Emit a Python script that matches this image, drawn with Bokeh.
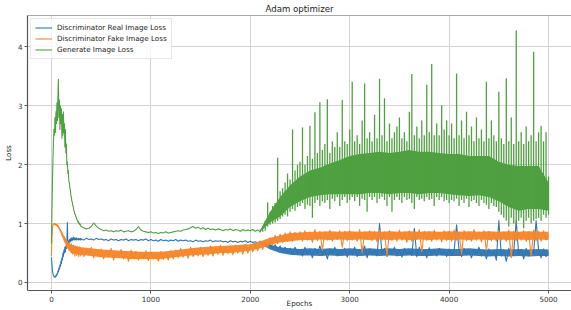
from bokeh.plotting import figure
from bokeh.models import FixedTicker, Range1d, Span, Legend, LegendItem
from bokeh.embed import file_html
from bokeh.resources import INLINE

# ---------------- data ----------------
epochs = list(range(0, 300, 5)) + list(range(300, 5001, 25))

d_real_loss = [
    # 0-295 (step 5)
    0.43, 0.30, 0.20, 0.15, 0.12, 0.10, 0.09, 0.10, 0.09, 0.12,
    0.11, 0.15, 0.14, 0.20, 0.18, 0.25, 0.22, 0.30, 0.27, 0.36,
    0.32, 0.42, 0.38, 0.50, 0.44, 0.55, 0.50, 0.60, 0.52, 0.62,
    0.58, 0.68, 1.02, 0.64, 0.70, 0.66, 0.73, 0.68, 0.74, 0.70,
    0.76, 0.71, 0.75, 0.72, 0.77, 0.73, 0.76, 0.72, 0.75, 0.73,
    0.76, 0.72, 0.74, 0.73, 0.75, 0.72, 0.74, 0.73, 0.75, 0.72,
    # 300-475 (step 25)
    0.74, 0.72, 0.75, 0.73, 0.74, 0.72, 0.75, 0.73,
    # 500-975
    0.74, 0.72, 0.73, 0.71, 0.74, 0.72, 0.73, 0.71, 0.73, 0.72,
    0.74, 0.71, 0.73, 0.72, 0.73, 0.71, 0.73, 0.72, 0.74, 0.71,
    # 1000-1475
    0.73, 0.71, 0.72, 0.70, 0.73, 0.71, 0.72, 0.70, 0.72, 0.71,
    0.73, 0.70, 0.72, 0.71, 0.72, 0.70, 0.71, 0.69, 0.72, 0.70,
    # 1500-1975
    0.71, 0.69, 0.71, 0.70, 0.72, 0.69, 0.71, 0.70, 0.71, 0.69,
    0.70, 0.68, 0.71, 0.69, 0.70, 0.68, 0.70, 0.69, 0.71, 0.68,
    # 2000-2475
    0.70, 0.68, 0.69, 0.67, 0.70, 0.66, 0.68, 0.62, 0.66, 0.58,
    0.64, 0.55, 0.62, 0.52, 0.60, 0.50, 0.58, 0.48, 0.60, 0.50,
    # 2500-2975
    0.56, 0.45, 0.60, 0.48, 0.55, 0.42, 0.58, 0.50, 0.62, 0.46,
    0.55, 0.40, 0.57, 0.49, 0.60, 0.45, 0.54, 0.48, 0.58, 0.43,
    # 3000-3475
    0.55, 0.47, 0.60, 0.44, 0.56, 0.50, 0.62, 0.42, 0.57, 0.48,
    0.55, 0.45, 1.00, 0.47, 0.58, 0.44, 0.56, 0.49, 0.60, 0.45,
    # 3500-3975
    0.55, 0.43, 0.58, 0.48, 0.54, 0.46, 0.92, 0.44, 0.60, 0.47,
    0.56, 0.42, 0.59, 0.48, 0.55, 0.45, 0.58, 0.47, 0.54, 0.44,
    # 4000-4475
    0.57, 0.46, 0.53, 0.98, 0.55, 0.44, 0.58, 0.47, 0.52, 0.42,
    0.56, 0.48, 0.60, 0.45, 0.54, 0.40, 0.57, 0.46, 0.53, 0.38,
    # 4500-5000
    1.05, 0.45, 0.55, 0.36, 0.58, 0.44, 0.52, 1.05, 0.47, 0.56,
    0.40, 0.58, 0.45, 0.53, 0.50, 1.05, 0.55, 0.42, 0.57, 0.44, 0.50,
]

d_fake_loss = [
    # 0-295 (step 5)
    0.45, 0.75, 0.92, 0.98, 1.00, 0.99, 1.00, 0.98, 1.00, 0.97,
    0.99, 0.96, 0.98, 0.94, 0.96, 0.91, 0.93, 0.88, 0.90, 0.84,
    0.87, 0.80, 0.84, 0.76, 0.80, 0.72, 0.78, 0.68, 0.75, 0.64,
    0.72, 0.60, 0.70, 0.58, 0.66, 0.55, 0.68, 0.54, 0.64, 0.52,
    0.66, 0.50, 0.62, 0.48, 0.63, 0.50, 0.60, 0.45, 0.62, 0.50,
    0.58, 0.46, 0.60, 0.49, 0.57, 0.44, 0.60, 0.48, 0.56, 0.45,
    # 300-475 (step 25)
    0.58, 0.44, 0.56, 0.47, 0.60, 0.42, 0.55, 0.46,
    # 500-975
    0.57, 0.40, 0.54, 0.45, 0.58, 0.38, 0.53, 0.44, 0.56, 0.40,
    0.52, 0.36, 0.55, 0.42, 0.53, 0.38, 0.50, 0.41, 0.54, 0.37,
    # 1000-1475
    0.52, 0.40, 0.50, 0.36, 0.53, 0.39, 0.51, 0.38, 0.54, 0.40,
    0.55, 0.42, 0.58, 0.43, 0.56, 0.41, 0.60, 0.44, 0.58, 0.45,
    # 1500-1975
    0.60, 0.44, 0.57, 0.46, 0.62, 0.45, 0.59, 0.48, 0.63, 0.46,
    0.60, 0.49, 0.62, 0.47, 0.64, 0.50, 0.61, 0.48, 0.65, 0.50,
    # 2000-2475
    0.63, 0.52, 0.66, 0.54, 0.68, 0.56, 0.72, 0.60, 0.76, 0.64,
    0.80, 0.66, 0.82, 0.68, 0.84, 0.70, 0.86, 0.70, 0.85, 0.72,
    # 2500-2975
    0.86, 0.70, 0.88, 0.72, 0.85, 0.68, 0.90, 0.71, 0.87, 0.55,
    0.86, 0.72, 0.89, 0.70, 0.85, 0.73, 0.88, 0.60, 0.87, 0.71,
    # 3000-3475
    0.88, 0.72, 0.85, 0.70, 0.90, 0.50, 0.86, 0.73, 0.88, 0.71,
    0.87, 0.69, 0.89, 0.72, 0.86, 0.45, 0.88, 0.71, 0.85, 0.70,
    # 3500-3975
    0.89, 0.72, 0.86, 0.68, 0.88, 0.70, 0.85, 0.73, 0.90, 0.52,
    0.87, 0.71, 0.86, 0.70, 0.89, 0.72, 0.85, 0.69, 0.88, 0.71,
    # 4000-4475
    0.87, 0.70, 0.89, 0.72, 0.86, 0.48, 0.88, 0.71, 0.85, 0.70,
    0.90, 0.72, 0.86, 0.69, 0.88, 0.55, 0.87, 0.71, 0.85, 0.70,
    # 4500-5000
    0.88, 0.72, 0.86, 0.70, 0.89, 0.42, 0.87, 0.71, 0.85, 0.72,
    0.88, 0.70, 0.86, 0.45, 0.89, 0.71, 0.87, 0.70, 0.88, 0.72, 0.80,
]

# generator loss as a line up to epoch 2100 ...
g_epochs = list(range(0, 300, 5)) + list(range(300, 2101, 25))
g_loss = [
    # 0-295 (step 5)
    0.66, 1.20, 1.70, 2.10, 2.40, 2.60, 2.50, 2.80, 2.55, 2.90,
    2.70, 3.05, 2.75, 3.20, 3.45, 2.80, 3.10, 2.60, 3.00, 2.70,
    2.95, 2.45, 2.85, 2.50, 2.90, 2.55, 2.70, 2.30, 2.60, 2.20,
    2.35, 2.00, 2.05, 1.85, 1.90, 1.72, 1.70, 1.60, 1.58, 1.48,
    1.45, 1.38, 1.36, 1.30, 1.29, 1.22, 1.21, 1.16, 1.15, 1.12,
    1.10, 1.07, 1.06, 1.03, 1.04, 1.00, 1.01, 0.98, 0.99, 0.96,
    # 300-475 (step 25)
    0.95, 0.93, 0.91, 0.92, 0.95, 1.01, 0.96, 0.92,
    # 500-975
    0.90, 0.88, 0.89, 0.87, 0.88, 0.86, 0.88, 0.87, 0.89, 0.86,
    0.87, 0.88, 0.86, 0.87, 0.90, 0.95, 0.89, 0.87, 0.86, 0.85,
    # 1000-1475
    0.86, 0.84, 0.85, 0.83, 0.85, 0.84, 0.86, 0.84, 0.85, 0.86,
    0.87, 0.88, 0.87, 0.89, 0.90, 0.91, 0.93, 0.95, 0.92, 0.94,
    # 1500-1975
    0.91, 0.93, 0.90, 0.92, 0.90, 0.91, 0.89, 0.91, 0.90, 0.88,
    0.90, 0.89, 0.91, 0.88, 0.90, 0.89, 0.87, 0.90, 0.88, 0.89,
    # 2000-2100
    0.88, 0.90, 0.87, 0.89, 0.86,
]

# ... and, where it is very noisy, as the low / high reached in each 25-epoch column
g_col_epochs = list(range(2100, 5001, 25))
g_col_low = [
    0.85, 0.86, 0.88, 0.95, 0.98, 1.00, 1.02, 1.05, 1.08, 1.12, 1.15, 1.12, 1.20, 1.25, 1.22, 1.28,
    1.30, 1.35, 1.25, 1.32, 1.30, 1.10, 1.35, 1.40, 1.30, 1.38, 1.35, 1.40, 1.25, 1.42, 1.38, 1.45, 1.30, 1.40, 1.45, 1.35,
    1.40, 1.45, 1.38, 1.45, 1.30, 1.42, 1.40, 1.20, 1.45, 1.40, 1.45, 1.35, 1.42, 1.45, 1.40, 1.30, 1.45, 1.20, 1.40, 1.45,
    1.40, 1.35, 1.45, 1.40, 1.42, 1.35, 1.25, 1.45, 1.40, 1.42, 1.38, 1.45, 1.40, 1.42, 1.30, 1.45, 1.40, 1.45, 1.38, 1.40,
    1.35, 1.40, 1.38, 1.42, 1.30, 1.40, 1.35, 1.42, 1.28, 1.38, 1.40, 1.35, 1.30, 1.40, 1.35, 1.32, 1.25, 1.35, 1.30, 1.28,
    1.20, 1.15, 1.10, 1.05, 0.95, 1.10, 1.00, 0.98, 1.05, 1.10, 0.92, 1.05, 1.10, 1.00, 1.05, 1.08, 1.10, 1.05, 1.15, 1.10, 1.15,
]
g_col_high = [
    0.90, 0.92, 1.05, 1.36, 1.20, 1.30, 1.35, 2.12, 1.55, 1.60, 1.70, 1.85, 1.75, 2.60, 1.90, 2.00,
    2.05, 2.63, 2.00, 2.15, 2.66, 2.10, 2.89, 2.20, 3.06, 2.25, 2.35, 3.11, 2.20, 2.40, 2.30, 2.55, 2.30, 3.10, 2.40, 2.35,
    2.60, 3.41, 2.40, 2.50, 2.35, 2.75, 3.38, 2.45, 2.55, 2.40, 2.85, 2.45, 3.46, 2.50, 3.13, 2.40, 2.70, 2.45, 2.55, 2.65,
    2.80, 2.45, 2.55, 2.40, 2.90, 3.54, 2.50, 2.65, 2.45, 2.75, 2.50, 3.36, 2.55, 3.71, 2.50, 2.70, 2.50, 3.01, 2.60, 2.75,
    2.50, 2.70, 2.45, 3.55, 2.50, 2.75, 2.45, 2.90, 2.50, 2.65, 2.40, 2.80, 2.45, 2.60, 2.40, 3.41, 2.45, 2.75, 2.50, 2.40,
    3.24, 2.45, 2.35, 3.47, 2.40, 2.80, 2.35, 4.28, 2.40, 2.55, 2.35, 2.65, 2.40, 2.50, 3.92, 2.40, 2.55, 2.66, 2.40, 2.55, 1.80,
]

# solid-looking cores of the noisy parts, every 100 epochs
band_epochs_late = list(range(2100, 5001, 100))
g_band_low = [0.86, 1.02, 1.12, 1.28, 1.38, 1.45, 1.48, 1.50, 1.50, 1.50,
              1.50, 1.52, 1.52, 1.50, 1.52, 1.52, 1.50, 1.52, 1.52, 1.50,
              1.48, 1.47, 1.48, 1.45, 1.38, 1.28, 1.22, 1.25, 1.25, 1.22]
g_band_high = [0.89, 1.20, 1.45, 1.65, 1.80, 1.90, 1.95, 2.02, 2.08, 2.15,
               2.18, 2.20, 2.22, 2.20, 2.22, 2.25, 2.22, 2.22, 2.20, 2.18,
               2.18, 2.15, 2.15, 2.15, 2.05, 2.00, 1.98, 1.98, 1.98, 1.70]
d_real_band_low = [0.66, 0.56, 0.50, 0.47, 0.46, 0.46, 0.45, 0.46, 0.45, 0.46,
                   0.45, 0.46, 0.45, 0.46, 0.45, 0.46, 0.45, 0.45, 0.46, 0.45,
                   0.45, 0.46, 0.45, 0.44, 0.45, 0.44, 0.45, 0.44, 0.45, 0.45]
d_real_band_high = [0.70, 0.64, 0.60, 0.58, 0.57, 0.58, 0.57, 0.58, 0.57, 0.58,
                    0.57, 0.58, 0.57, 0.58, 0.57, 0.58, 0.57, 0.57, 0.58, 0.57,
                    0.57, 0.58, 0.57, 0.56, 0.57, 0.56, 0.57, 0.56, 0.57, 0.56]

band_epochs_fake = list(range(200, 5001, 100))
d_fake_band_low = [0.50, 0.47, 0.45, 0.43, 0.42, 0.41, 0.40, 0.40, 0.40, 0.40,
                   0.42, 0.44, 0.46, 0.47, 0.48, 0.50, 0.50, 0.52, 0.54, 0.58,
                   0.64, 0.68, 0.70, 0.72, 0.72, 0.73, 0.72, 0.73, 0.72, 0.73,
                   0.72, 0.73, 0.72, 0.73, 0.72, 0.73, 0.72, 0.73, 0.72, 0.73,
                   0.72, 0.73, 0.72, 0.73, 0.72, 0.73, 0.72, 0.73, 0.72]
d_fake_band_high = [0.64, 0.60, 0.58, 0.56, 0.55, 0.54, 0.53, 0.52, 0.52, 0.52,
                    0.54, 0.56, 0.58, 0.60, 0.61, 0.62, 0.63, 0.64, 0.65, 0.70,
                    0.76, 0.80, 0.84, 0.85, 0.86, 0.86, 0.87, 0.86, 0.87, 0.86,
                    0.87, 0.86, 0.87, 0.86, 0.87, 0.86, 0.87, 0.86, 0.87, 0.86,
                    0.87, 0.86, 0.87, 0.86, 0.87, 0.86, 0.87, 0.86, 0.86]

series_names = ["Discriminator Real Image Loss",
                "Discriminator Fake Image Loss",
                "Generate Image Loss"]
series_colors = ["#2f76b3", "#f5862a", "#4f a040".replace(" ", "")]

x_ticks = [0, 1000, 2000, 3000, 4000, 5000]
y_ticks = [0, 1, 2, 3, 4]

FONT = "DejaVu Sans"
Y0, Y1 = -0.136, 4.534

p = figure(width=571, height=310, output_backend="svg", toolbar_location=None,
           title="Adam optimizer",
           x_range=Range1d(-241, 5231), y_range=Range1d(Y0, Y1),
           min_border_left=0, min_border_right=0, min_border_top=0,
           min_border_bottom=0)

p.title.align = "center"
p.title.text_font = FONT
p.title.text_font_size = "8.6px"
p.title.text_font_style = "normal"
p.title.text_color = "#222222"
p.title.standoff = 3
p.title.offset = 0

p.outline_line_color = None
p.background_fill_color = "white"
p.border_fill_color = "white"

for ax, ticks in ((p.xaxis[0], x_ticks), (p.yaxis[0], y_ticks)):
    ax.ticker = FixedTicker(ticks=ticks)
    ax.axis_label_text_font = FONT
    ax.axis_label_text_font_size = "7.2px"
    ax.axis_label_text_font_style = "normal"
    ax.axis_label_text_color = "#222222"
    ax.axis_label_standoff = 2
    ax.major_label_text_font = FONT
    ax.major_label_text_font_size = "7.2px"
    ax.major_label_text_color = "#333333"
    ax.major_label_standoff = 2
    ax.axis_line_color = "#555555"
    ax.axis_line_width = 1.2
    ax.major_tick_line_color = "#555555"
    ax.major_tick_in = 0
    ax.major_tick_out = 3
    ax.minor_tick_line_color = None
p.yaxis[0].axis_label = "Loss"
p.xaxis[0].axis_label = "Epochs"
p.xaxis[0].axis_label_standoff = -6   # keeps the frame tall; label sits at the page bottom

for g in (p.xgrid[0], p.ygrid[0]):
    g.grid_line_color = "#d2d2d2"
    g.grid_line_width = 1

# top spine
p.add_layout(Span(location=Y1, dimension="width", line_color="#555555", line_width=1.2))

# discriminator losses: noise core band + line
renderers = []
for ys, col, (bx, lo, hi) in zip((d_real_loss, d_fake_loss), series_colors[:2],
                                 ((band_epochs_late, d_real_band_low, d_real_band_high),
                                  (band_epochs_fake, d_fake_band_low, d_fake_band_high))):
    p.varea(x=bx, y1=lo, y2=hi, fill_color=col, fill_alpha=0.95)
    r = p.line(epochs, ys, line_color=col, line_width=1.1, line_join="round")
    renderers.append(r)

# generator loss
g_col = series_colors[2]
r = p.line(g_epochs, g_loss, line_color=g_col, line_width=1.1, line_join="round")
p.varea(x=band_epochs_late, y1=g_band_low, y2=g_band_high, fill_color=g_col, fill_alpha=1.0)
p.segment(x0=g_col_epochs, y0=g_col_low, x1=g_col_epochs, y1=g_col_high,
          line_color=g_col, line_width=1.3)
renderers.append(r)

legend = Legend(items=[LegendItem(label=n, renderers=[rr]) for n, rr in zip(series_names, renderers)],
                location="top_left")
legend.label_text_font = FONT
legend.label_text_font_size = "7.2px"
legend.label_text_color = "#222222"
legend.label_height = 9
legend.glyph_height = 9
legend.glyph_width = 17
legend.label_standoff = 5
legend.spacing = 2
legend.padding = 4
legend.margin = 3
legend.border_line_color = "#cccccc"
legend.background_fill_alpha = 0.85
p.add_layout(legend, "center")

open("out.html", "w").write(file_html(p, INLINE))
